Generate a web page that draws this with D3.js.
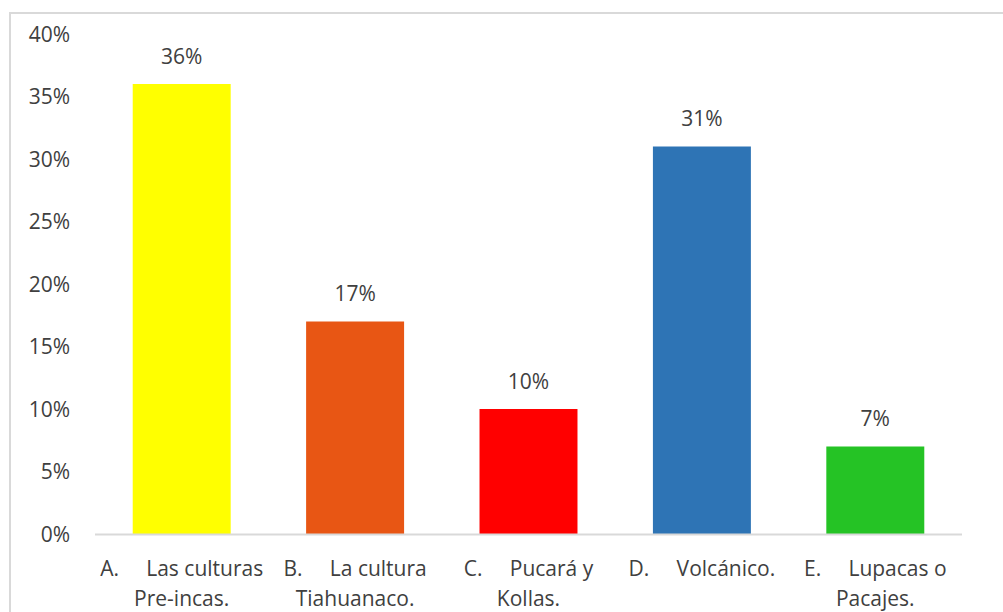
<!DOCTYPE html>
<html>
<head>
<meta charset="utf-8">
<style>
	body { margin: 0; background: #fff; }
	svg text { font-family: "Open Sans", sans-serif; fill: #404040; }
</style>
</head>
<body>
<svg id="chart" width="1003" height="612"></svg>
<script src="https://d3js.org/d3.v7.min.js"></script>
<script>
// chart data
var letters = ["A.", "B.", "C.", "D.", "E."];
var labels = [
	["Las culturas", "Pre-incas."],
	["La cultura", "Tiahuanaco."],
	["Pucará y", "Kollas."],
	["Volcánico."],
	["Lupacas o", "Pacajes."]
];
var values = [36, 17, 10, 31, 7];
var colors = ["#FFFF00", "#E85614", "#FF0000", "#2E74B5", "#25C325"];
var yTicks = [0, 5, 10, 15, 20, 25, 30, 35, 40];

var svg = d3.select("#chart");

// outer frame (runs off the right and bottom edges)
svg.append("rect")
	.attr("x", 10).attr("y", 13)
	.attr("width", 1010).attr("height", 620)
	.attr("fill", "none")
	.attr("stroke", "#d9d9d9")
	.attr("stroke-width", 2);

var x = d3.scaleBand()
	.domain(letters)
	.range([95, 962])
	.paddingInner(0.435)
	.paddingOuter(0.2175);

var y = d3.scaleLinear()
	.domain([0, 40])
	.range([534, 34]);

// y labels
svg.append("g")
	.selectAll("text")
	.data(yTicks)
	.join("text")
		.attr("x", 70)
		.attr("y", function(d) { return y(d); })
		.attr("dy", "0.36em")
		.attr("text-anchor", "end")
		.attr("font-size", 21)
		.text(function(d) { return d + "%"; });

// bars
svg.append("g")
	.selectAll("rect")
	.data(values)
	.join("rect")
		.attr("x", function(d, i) { return x(letters[i]); })
		.attr("y", function(d) { return y(d); })
		.attr("width", x.bandwidth())
		.attr("height", function(d) { return y(0) - y(d); })
		.attr("fill", function(d, i) { return colors[i]; });

// baseline
svg.append("line")
	.attr("x1", 95).attr("x2", 962)
	.attr("y1", y(0) + 0.5).attr("y2", y(0) + 0.5)
	.attr("stroke", "#d9d9d9")
	.attr("stroke-width", 2);

// value labels
svg.append("g")
	.selectAll("text")
	.data(values)
	.join("text")
		.attr("x", function(d, i) { return x(letters[i]) + x.bandwidth() / 2; })
		.attr("y", function(d) { return y(d) - 28; })
		.attr("dy", "0.36em")
		.attr("text-anchor", "middle")
		.attr("font-size", 21)
		.text(function(d) { return d + "%"; });

// category labels
var cat = svg.append("g")
	.selectAll("text")
	.data(letters)
	.join("text")
		.attr("text-anchor", "middle")
		.attr("font-size", 21)
		.style("white-space", "pre");

cat.each(function(d, i) {
	var t = d3.select(this);
	var cx = x(d) + x.bandwidth() / 2;
	t.append("tspan")
		.attr("x", cx)
		.attr("y", 568)
		.attr("dy", "0.36em")
		.text(d + "     " + labels[i][0]);
	if (labels[i][1]) {
		t.append("tspan")
			.attr("x", cx)
			.attr("y", 598)
			.attr("dy", "0.36em")
			.text(labels[i][1]);
	}
});
</script>
</body>
</html>
